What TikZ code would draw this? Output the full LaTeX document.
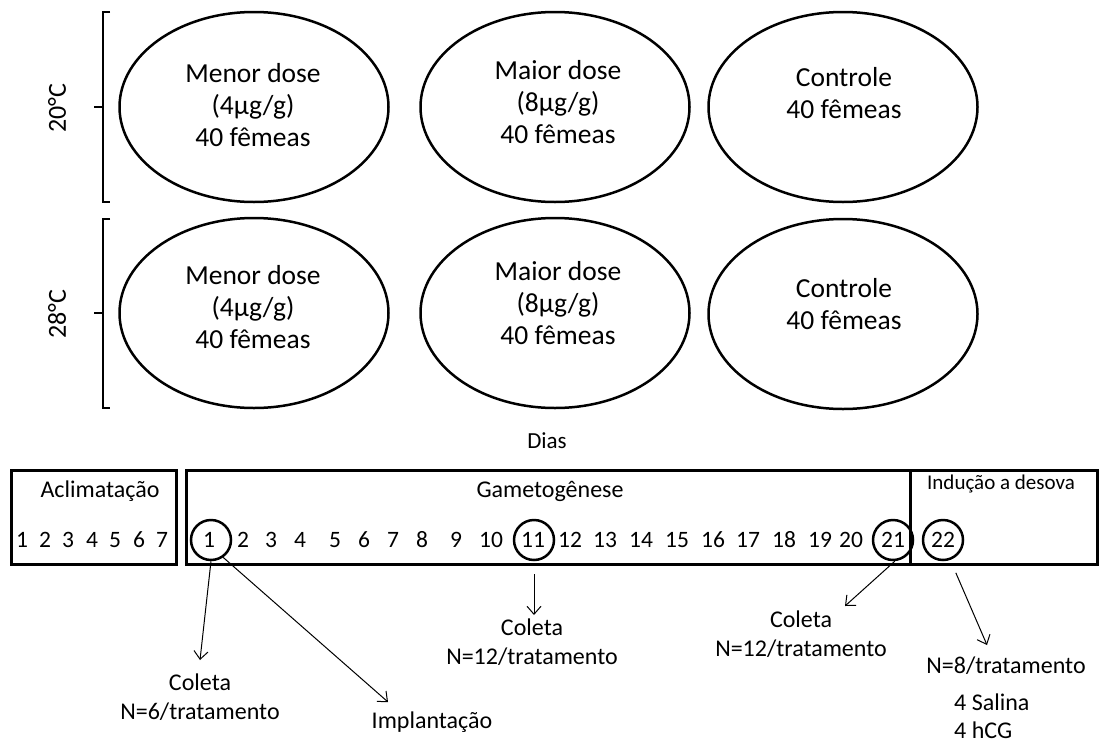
\documentclass[tikz,border=0pt]{standalone}
\usepackage{fontspec}
\setmainfont{Carlito}
\usetikzlibrary{shapes.geometric,arrows.meta}
\begin{document}
\begin{tikzpicture}[x=1pt,y=-1pt,
 ell/.style={draw,ellipse,line width=2.5pt,minimum width=269pt,minimum height=190pt,inner sep=0pt},
 etext/.style={align=center,font=\fontsize{27.5}{32}\selectfont,inner sep=0pt},
 temp/.style={rotate=90,font=\fontsize{26}{30}\selectfont,inner sep=0pt},
 lab/.style={align=center,font=\fontsize{24}{29}\selectfont,inner sep=0pt},
 phase/.style={draw,line width=3pt,inner sep=0pt,minimum height=94pt},
 day/.style={font=\fontsize{23.5}{28}\selectfont,inner sep=0pt},
 dcirc/.style={draw,circle,line width=2.5pt,minimum size=40pt,inner sep=0pt},
 arr/.style={-{Straight Barb[length=8pt,width=14pt]},line width=1pt},
 brk/.style={line width=2.5pt}
]
\useasboundingbox (0,0) rectangle (1100,744);

% ellipses row 1 (20 C)
\node[ell] (a1) at (254,107) {};
\node[ell] (a2) at (555,107) {};
\node[ell] (a3) at (843,107) {};
\node[etext] (ta1) at (253,105) {Menor dose\\(4µg/g)\\40 fêmeas};
\node[etext] (ta2) at (558,102) {Maior dose\\(8µg/g)\\40 fêmeas};
\node[etext] (ta3) at (844,93) {Controle\\40 fêmeas};
% ellipses row 2 (28 C)
\node[ell] (b1) at (254,313) {};
\node[ell] (b2) at (555,313) {};
\node[ell] (b3) at (843,314) {};
\node[etext] (tb1) at (253,307) {Menor dose\\(4µg/g)\\40 fêmeas};
\node[etext] (tb2) at (558,303) {Maior dose\\(8µg/g)\\40 fêmeas};
\node[etext] (tb3) at (844,304) {Controle\\40 fêmeas};

% brackets
\draw[brk] (110,12) -- (103,12) -- (103,202) -- (110,202);
\draw[brk] (103,107) -- (94,107);
\draw[brk] (110,219) -- (103,219) -- (103,408) -- (110,408);
\draw[brk] (103,313) -- (94,313);
\node[temp] (t20) at (57,108) {20°C};
\node[temp] (t28) at (57,314) {28°C};

% timeline
\node[font=\fontsize{23}{28}\selectfont,inner sep=0pt] (dias) at (547,441) {Dias};
\node[phase,minimum width=165pt] (pa) at (93.5,517) {};
\node[phase,minimum width=724pt] (pg) at (548,517) {};
\node[phase,minimum width=187pt] (pi) at (1003.5,517) {};
\node[lab] (la) at (100,491) {Aclimatação};
\node[lab] (lg) at (550,491) {Gametogênese};
\node[font=\fontsize{21}{24}\selectfont,inner sep=0pt] (li) at (1001,484) {Indução a desova};

\foreach \n/\x in {1/22,2/45,3/68,4/92,5/115,6/139,7/162}
  \node[day] (d\n) at (\x,540) {\n};
\foreach \n/\x in {1/209,2/243,3/271,4/300,5/335,6/364,7/393,8/422,9/456,10/491,11/533,12/570,13/605,14/641,15/677,16/713,17/748,18/784,19/820,20/851,21/893,22/943}
  \node[day] (g\n) at (\x,540) {\n};

\node[dcirc] (c1) at (211,540) {};
\node[dcirc] (c11) at (534,540) {};
\node[dcirc] (c21) at (893,540) {};
\node[dcirc] (c22) at (943,540) {};

% labels
\node[lab] (col1) at (200,697) {Coleta\\N=6/tratamento};
\node[lab] (imp) at (432,722) {Implantação};
\node[lab] (col11) at (532,642) {Coleta\\N=12/tratamento};
\node[lab] (col21) at (801,634) {Coleta\\N=12/tratamento};
\node[lab] (n8) at (1006,666) {N=8/tratamento};
\node[lab,align=left,anchor=west,font=\fontsize{24}{28}\selectfont] (trt) at (954,716) {4 Salina\\4 hCG};

% arrow ends
\coordinate (e1) at (200,660);
\coordinate (e2) at (388,702);
\coordinate (e11) at (534,615);
\coordinate (e21) at (845,606);
\coordinate (e22) at (987,645);

\draw[arr] (c1.south) -- (e1);
\draw[arr] (c1.-55) -- (e2);
\draw[arr,shorten <=13pt] (c11.south) -- (e11);
\draw[arr] (c21.-85) -- (e21);
\draw[arr,shorten <=14pt] (c22.-70) -- (e22);
\end{tikzpicture}
\end{document}
